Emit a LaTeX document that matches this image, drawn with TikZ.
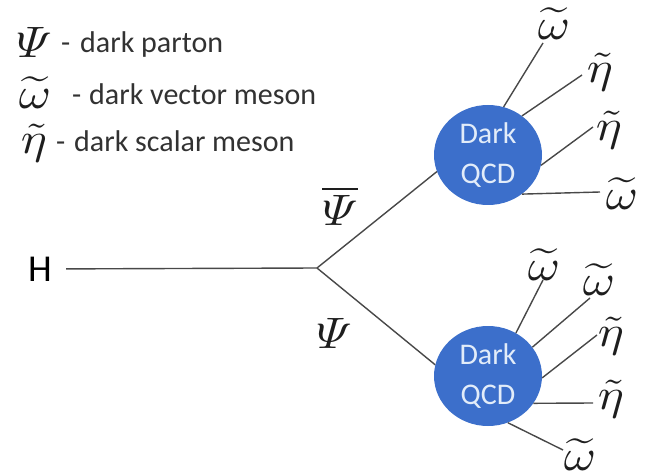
\documentclass[tikz,border=0pt]{standalone}
\usepackage{amsmath}
\usepackage{graphicx}
\usepackage{fontspec}
\newfontfamily\carl{Carlito}
\usetikzlibrary{shapes.geometric}
\definecolor{blobblue}{RGB}{60,111,203}
\definecolor{blobtext}{RGB}{226,236,249}
\definecolor{linegray}{RGB}{72,72,72}
\definecolor{legendgray}{RGB}{50,50,50}
\definecolor{mathgray}{RGB}{30,30,30}
\newcommand{\msym}[1]{\scalebox{4.9}[4.4]{$#1$}}
\newcommand{\wom}{\msym{\widetilde{\omega}}}
\newcommand{\teta}{\msym{\tilde{\eta}}}
\begin{document}
\begin{tikzpicture}[x=1pt,y=-1pt,
  prop/.style={draw=linegray,line width=1.4pt},
  blob/.style={ellipse,fill=blobblue,minimum width=108pt,minimum height=100pt,inner sep=0pt,align=center,text=blobtext,font=\carl\fontsize{30}{40}\selectfont},
  mlabel/.style={inner sep=0pt,text=mathgray},
  legsym/.style={inner sep=0pt,text=mathgray},
  legtext/.style={anchor=base west,inner sep=0pt,text=legendgray,font=\carl\fontsize{30}{36}\selectfont}]
\useasboundingbox (0,0) rectangle (646,476);
% legend
\node[legsym] (ls1) at (34,42) {\msym{\varPsi}};
\node[legtext] (ld1) at (61,53) {-};
\node[legtext] (lt1) at (80,53) {dark parton};
\node[legsym] (ls2) at (35,93) {\wom};
\node[legtext] (ld2) at (72,105) {-};
\node[legtext] (lt2) at (89,105) {dark vector meson};
\node[legsym] (ls3) at (34,143) {\teta};
\node[legtext] (ld3) at (56,152) {-};
\node[legtext] (lt3) at (74,152) {dark scalar meson};
% main diagram
\node[inner sep=0pt,font=\carl\fontsize{38}{40}\selectfont] (H) at (40,269) {H};
\coordinate (v) at (317,268);
\node[blob] (up) at (488,155) {Dark\\QCD};
\node[blob] (lo) at (488,376) {Dark\\QCD};
\draw[prop,shorten <=14pt] (H) -- (v);
\draw[prop] (v) -- (up.198);
\draw[prop] (v) -- (lo.168);
\node[mlabel] (pbar) at (340,206) {\msym{\overline{\varPsi}}};
\node[mlabel] (p) at (334,333) {\msym{\varPsi}};
% upper blob outgoing
\coordinate (u1) at (543,43);
\coordinate (u2) at (582,75);
\coordinate (u3) at (593,127);
\coordinate (u4) at (600,192);
\draw[prop] (up.72) -- (u1);
\draw[prop] (up.49) -- (u2);
\draw[prop] (up.-11) -- (u3);
\draw[prop] (up.-49) -- (u4);
\node[mlabel] (ul1) at (554,24) {\wom};
\node[mlabel] (ul2) at (600,72) {\teta};
\node[mlabel] (ul3) at (609,130) {\teta};
\node[mlabel] (ul4) at (622,194) {\wom};
% lower blob outgoing
\coordinate (d1) at (543,280);
\coordinate (d2) at (590,298);
\coordinate (d3) at (597,335);
\coordinate (d4) at (593,403);
\coordinate (d5) at (563,450);
\draw[prop] (lo.57) -- (d1);
\draw[prop] (lo.33) -- (d2);
\draw[prop] (lo.-2) -- (d3);
\draw[prop] (lo.-31) -- (d4);
\draw[prop] (lo.-67) -- (d5);
\node[mlabel] (dl1) at (544,265) {\wom};
\node[mlabel] (dl2) at (599,280) {\wom};
\node[mlabel] (dl3) at (611,336) {\teta};
\node[mlabel] (dl4) at (611,399) {\teta};
\node[mlabel] (dl5) at (580,455) {\wom};
\end{tikzpicture}
\end{document}
